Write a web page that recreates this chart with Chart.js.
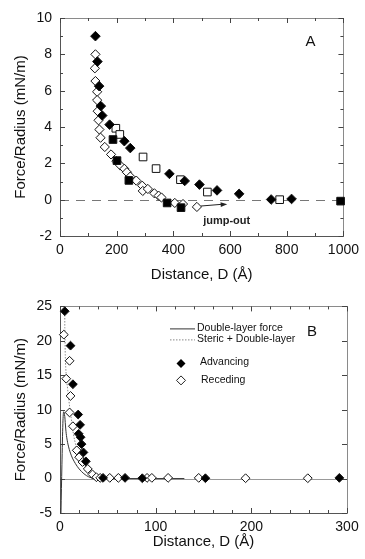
<!DOCTYPE html>
<html>
<head>
<meta charset="utf-8">
<script src="https://cdn.jsdelivr.net/npm/chart.js@4.4.0/dist/chart.umd.min.js"></script>
<style>
  html, body { margin: 0; padding: 0; background: #fff; }
  #boxA { width: 365px; height: 290px; }
  #boxB { width: 365px; height: 269px; }
</style>
</head>
<body>
<div id="boxA"><canvas id="chartA"></canvas></div>
<div id="boxB"><canvas id="chartB"></canvas></div>
<script>
// ---- Panel A data (D in Å, F/R in mN/m) ----
const aFilledDiamondD = [125, 132, 138, 144, 149, 175, 227, 248, 386, 440, 492, 554, 632, 745, 817];
const aFilledDiamondF = [9.0, 7.6, 6.25, 5.15, 4.63, 4.13, 3.22, 2.84, 1.42, 1.03, 0.83, 0.51, 0.32, 0.01, 0.04];

const aOpenSquareD = [197, 211, 293, 339, 425, 520, 775];
const aOpenSquareF = [3.93, 3.59, 2.35, 1.71, 1.1, 0.42, 0.0];

const aFilledSquareD = [187, 201, 243, 378, 427, 990];
const aFilledSquareF = [3.31, 2.15, 1.06, -0.18, -0.44, -0.08];

const aOpenDiamondD = [125, 123, 125, 131, 131, 133, 136, 139, 143, 158, 180, 199, 213, 227, 236, 248, 269, 290, 292, 310, 333, 348, 358, 405, 434, 483];
const aOpenDiamondF = [8.0, 7.23, 6.53, 5.94, 5.48, 4.87, 4.37, 3.86, 3.41, 2.9, 2.49, 2.12, 1.88, 1.7, 1.51, 1.27, 1.05, 0.77, 0.48, 0.59, 0.35, 0.22, 0.12, -0.18, -0.24, -0.4];

const aArrowD = [497, 590];
const aArrowF = [-0.35, -0.25];

// ---- Panel B data ----
const bAdvancingD = [5, 11, 13.5, 19, 21, 19.5, 21.5, 22.5, 24.5, 27, 45, 68, 86, 152, 292];
const bAdvancingF = [24.3, 19.3, 13.7, 9.3, 7.8, 6.5, 6.0, 5.0, 3.8, 2.5, 0.1, 0.1, 0.05, 0.05, 0.1];

const bRecedingD = [4, 10, 6.5, 11, 10, 13.5, 17.5, 20, 23.5, 29, 34, 38, 42, 52, 61, 91, 96, 113, 145, 194, 259];
const bRecedingF = [20.9, 17.1, 14.5, 12.0, 9.6, 7.6, 4.1, 3.1, 2.4, 1.4, 0.6, 0.2, 0.1, 0.1, 0.1, 0.1, 0.1, 0.1, 0.1, 0.05, 0.05];

const bDoubleLayerD = [1, 2, 3, 3.8, 5, 6, 7, 9, 12, 16, 20, 25, 30, 35, 42, 130];
const bDoubleLayerF = [-5, 2, 8, 9.7, 9.0, 7.2, 6.0, 4.6, 3.3, 2.2, 1.4, 0.7, 0.25, 0.05, 0, 0];

const bStericD = [5, 5, 5.5, 6.5, 8, 10, 12, 14, 17, 20, 24, 29, 34, 40, 48];
const bStericF = [25.5, 22, 18, 15, 13, 10.5, 8.5, 6.5, 4.6, 3.4, 2.3, 1.3, 0.6, 0.15, 0];

const FONT = "'Liberation Sans', Arial, Helvetica, sans-serif";
const pts = (xs, ys) => xs.map((v, i) => ({ x: v, y: ys[i] }));

// frame, inward ticks, reference line at zero, labels
const framePlugin = {
    id: 'frame',
    beforeDatasetsDraw(chart, args, o) {
        const { ctx, chartArea: a, scales: { x, y } } = chart;
        ctx.save();
        // zero line
        const y0 = Math.round(y.getPixelForValue(0)) + 0.5;
        ctx.strokeStyle = o.zeroColor;
        ctx.lineWidth = 1;
        ctx.setLineDash(o.zeroDash);
        ctx.beginPath();
        ctx.moveTo(a.left, y0);
        ctx.lineTo(a.right, y0);
        ctx.stroke();
        ctx.setLineDash([]);

        // box
        ctx.strokeStyle = '#8a8a8a';
        ctx.strokeRect(Math.round(a.left) + 0.5, Math.round(a.top) + 0.5,
            Math.round(a.right - a.left), Math.round(a.bottom - a.top));
        ctx.strokeStyle = '#555';
        ctx.beginPath();
        ctx.moveTo(Math.round(a.left) + 0.5, a.top);
        ctx.lineTo(Math.round(a.left) + 0.5, a.bottom + 0.5);
        ctx.lineTo(a.right, Math.round(a.bottom) + 0.5);
        ctx.stroke();

        // ticks
        ctx.strokeStyle = '#444';
        ctx.beginPath();
        for (let v = x.min; v <= x.max + 1e-6; v += o.xMinor) {
            const px = Math.round(x.getPixelForValue(v)) + 0.5;
            const len = Math.abs(v / o.xMajor - Math.round(v / o.xMajor)) < 1e-6 ? 5 : 3;
            ctx.moveTo(px, a.bottom); ctx.lineTo(px, a.bottom - len);
            ctx.moveTo(px, a.top); ctx.lineTo(px, a.top + len);
        }
        for (let v = y.min; v <= y.max + 1e-6; v += o.yMinor) {
            const py = Math.round(y.getPixelForValue(v)) + 0.5;
            const len = Math.abs(v / o.yMajor - Math.round(v / o.yMajor)) < 1e-6 ? 5 : 3;
            ctx.moveTo(a.left, py); ctx.lineTo(a.left + len, py);
            ctx.moveTo(a.right, py); ctx.lineTo(a.right - len, py);
        }
        ctx.stroke();
        ctx.restore();
    },
    afterDatasetsDraw(chart, args, o) {
        const { ctx, chartArea: a } = chart;
        ctx.save();
        ctx.fillStyle = '#111';
        ctx.font = '15px ' + FONT;
        ctx.textAlign = 'center';
        ctx.textBaseline = 'middle';
        ctx.fillText(o.letter, a.right - o.letterDx, a.top + o.letterDy);
        ctx.restore();
    }
};

const arrowPlugin = {
    id: 'jumpout',
    afterDatasetsDraw(chart) {
        const { ctx, scales: { x, y } } = chart;
        const x1 = x.getPixelForValue(aArrowD[0]), y1 = y.getPixelForValue(aArrowF[0]);
        const x2 = x.getPixelForValue(aArrowD[1]), y2 = y.getPixelForValue(aArrowF[1]);
        ctx.save();
        ctx.strokeStyle = '#222';
        ctx.fillStyle = '#222';
        ctx.lineWidth = 1;
        ctx.beginPath();
        ctx.moveTo(x1, y1);
        ctx.lineTo(x2 - 4, y2);
        ctx.stroke();
        const ang = Math.atan2(y2 - y1, x2 - x1);
        ctx.beginPath();
        ctx.moveTo(x2, y2);
        ctx.lineTo(x2 - 7 * Math.cos(ang - 0.35), y2 - 7 * Math.sin(ang - 0.35));
        ctx.lineTo(x2 - 7 * Math.cos(ang + 0.35), y2 - 7 * Math.sin(ang + 0.35));
        ctx.closePath();
        ctx.fill();
        ctx.font = 'bold 11px ' + FONT;
        ctx.textAlign = 'center';
        ctx.textBaseline = 'middle';
        ctx.fillText('jump-out', x.getPixelForValue(588), y.getPixelForValue(-1.17));
        ctx.restore();
    }
};

const legendPlugin = {
    id: 'legendB',
    afterDatasetsDraw(chart) {
        const { ctx, chartArea: a } = chart;
        const lx = a.left + 110, tx = a.left + 137;
        ctx.save();
        ctx.font = '10.5px ' + FONT;
        ctx.fillStyle = '#111';
        ctx.textBaseline = 'middle';
        ctx.lineWidth = 1;
        ctx.strokeStyle = '#333';
        ctx.beginPath(); ctx.moveTo(lx, a.top + 22.5); ctx.lineTo(lx + 25, a.top + 22.5); ctx.stroke();
        ctx.fillText('Double-layer force', tx, a.top + 22);
        ctx.strokeStyle = '#888';
        ctx.setLineDash([1.5, 1.5]);
        ctx.beginPath(); ctx.moveTo(lx, a.top + 33.5); ctx.lineTo(lx + 25, a.top + 33.5); ctx.stroke();
        ctx.setLineDash([]);
        ctx.fillText('Steric + Double-layer', tx, a.top + 33);
        const mx = a.left + 121;
        const diamond = (cx, cy, r) => {
            ctx.beginPath();
            ctx.moveTo(cx - r, cy); ctx.lineTo(cx, cy - r); ctx.lineTo(cx + r, cy); ctx.lineTo(cx, cy + r);
            ctx.closePath();
        };
        diamond(mx, a.top + 57, 4.5); ctx.fillStyle = '#000'; ctx.fill();
        diamond(mx, a.top + 74, 4.5); ctx.fillStyle = '#fff'; ctx.fill(); ctx.strokeStyle = '#222'; ctx.stroke();
        ctx.fillStyle = '#111';
        ctx.fillText('Advancing', a.left + 140, a.top + 56);
        ctx.fillText('Receding', a.left + 141, a.top + 74);
        ctx.restore();
    }
};

function axes(xmin, xmax, xstep, ymin, ymax, ystep, xh, xTitlePad) {
    return {
        x: {
            type: 'linear', min: xmin, max: xmax,
            grid: { display: false, drawTicks: false },
            border: { display: false },
            ticks: { stepSize: xstep, padding: 6, color: '#111', font: { family: FONT, size: 14 }, callback: (v) => String(v) },
            title: { display: true, text: 'Distance, D (Å)', color: '#111', padding: { top: 0, bottom: xTitlePad }, font: { family: FONT, size: 15 } },
            afterFit: (s) => { s.height = xh; }
        },
        y: {
            type: 'linear', min: ymin, max: ymax,
            grid: { display: false, drawTicks: false },
            border: { display: false },
            ticks: { stepSize: ystep, padding: 8, color: '#111', font: { family: FONT, size: 14 }, callback: (v) => String(v) },
            title: { display: true, text: 'Force/Radius (mN/m)', color: '#111', padding: { top: 12, bottom: 0 }, font: { family: FONT, size: 15 } },
            afterFit: (s) => { s.width = 60; }
        }
    };
}

const scatterSet = (data, style, fill, r) => ({
    type: 'scatter', data, pointStyle: style, pointRadius: r,
    pointBackgroundColor: fill, pointBorderColor: '#111', pointBorderWidth: 1,
    showLine: false, clip: false
});

new Chart(document.getElementById('chartA'), {
    type: 'scatter',
    data: {
        datasets: [
            scatterSet(pts(aFilledSquareD, aFilledSquareF), 'rect', '#000', 5.4),
            scatterSet(pts(aFilledDiamondD, aFilledDiamondF), 'rectRot', '#000', 4.8),
            scatterSet(pts(aOpenSquareD, aOpenSquareF), 'rect', '#fff', 5.4),
            scatterSet(pts(aOpenDiamondD, aOpenDiamondF), 'rectRot', '#fff', 4.6)
        ]
    },
    options: {
        responsive: true, maintainAspectRatio: false, animation: false, events: [],
        layout: { padding: { left: 0, right: 20, top: 18, bottom: 0 } },
        plugins: {
            legend: { display: false }, tooltip: { enabled: false },
            frame: { xMinor: 100, xMajor: 200, yMinor: 1, yMajor: 2, zeroColor: '#777', zeroDash: [9, 7], letter: 'A', letterDx: 33, letterDy: 24 }
        },
        scales: axes(0, 1000, 200, -2, 10, 2, 54, 6)
    },
    plugins: [framePlugin, arrowPlugin]
});

new Chart(document.getElementById('chartB'), {
    type: 'scatter',
    data: {
        datasets: [
            scatterSet(pts(bAdvancingD, bAdvancingF), 'rectRot', '#000', 4.4),
            scatterSet(pts(bRecedingD, bRecedingF), 'rectRot', '#fff', 4.4),
            {
                type: 'line', data: pts(bDoubleLayerD, bDoubleLayerF), borderColor: '#333', borderWidth: 1,
                pointRadius: 0, cubicInterpolationMode: 'monotone', fill: false
            },
            {
                type: 'line', data: pts(bStericD, bStericF), borderColor: '#888', borderWidth: 1, borderDash: [1.5, 1.5],
                pointRadius: 0, cubicInterpolationMode: 'monotone', fill: false
            }
        ]
    },
    options: {
        responsive: true, maintainAspectRatio: false, animation: false, events: [],
        layout: { padding: { left: 0, right: 18, top: 10, bottom: 0 } },
        plugins: {
            legend: { display: false }, tooltip: { enabled: false },
            frame: { xMinor: 20, xMajor: 100, yMinor: 5, yMajor: 5, zeroColor: '#999', zeroDash: [], letter: 'B', letterDx: 35, letterDy: 25 }
        },
        scales: axes(0, 300, 100, -5, 25, 5, 46, 8)
    },
    plugins: [framePlugin, legendPlugin]
});
</script>
</body>
</html>
